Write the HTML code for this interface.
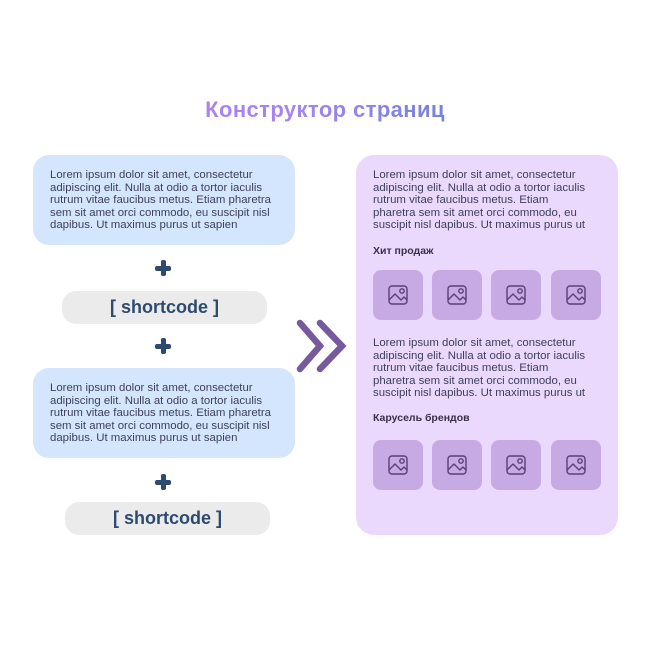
<!DOCTYPE html>
<html><head><meta charset="utf-8"><style>
body{margin:0;width:650px;height:650px;background:#fff;position:relative;overflow:hidden;font-family:"Liberation Sans","DejaVu Sans",sans-serif}
.a{position:absolute}
.title{left:0;width:650px;top:97px;text-align:center;font-size:22px;letter-spacing:0.4px;font-weight:bold;background:linear-gradient(90deg,#c07af5 0%,#a584ee 45%,#5b84d2 80%,#4a7bc8 100%);-webkit-background-clip:text;background-clip:text;color:transparent}
.box{background:#d3e6fd;border-radius:16px;width:262px;height:90px;left:33px}
.t{font-size:11.4px;line-height:12.6px;color:#3e3e5a;white-space:nowrap}
.pill{background:#ebebeb;border-radius:14px;width:205px;height:33px;text-align:center;line-height:33px;font-size:18px;font-weight:bold;color:#2d4a6f}
.plus{width:16px;height:16px}
.plus:before,.plus:after{content:"";position:absolute;background:#2d4a6f;border-radius:2px}
.plus:before{left:0;top:6px;width:16px;height:4.5px}
.plus:after{left:6px;top:0;width:4.5px;height:16px}
.panel{left:356px;top:155px;width:262px;height:380px;background:#ead9fd;border-radius:18px}
.tile{width:50px;height:50px;background:#c7a9e4;border-radius:8px}
.h{font-size:10.5px;font-weight:bold;color:#3a2f4a}
</style></head><body>
<div class="a title">Конструктор страниц</div>
<div class="a box" style="top:155px"></div>
<div class="a t" style="left:50px;top:169px">Lorem ipsum dolor sit amet, consectetur<br>adipiscing elit. Nulla at odio a tortor iaculis<br>rutrum vitae faucibus metus. Etiam pharetra<br>sem sit amet orci commodo, eu suscipit nisl<br>dapibus. Ut maximus purus ut sapien</div>
<div class="a plus" style="left:155px;top:260px"></div>
<div class="a pill" style="left:62px;top:291px">[ shortcode ]</div>
<div class="a plus" style="left:155px;top:338px"></div>
<div class="a box" style="top:368px"></div>
<div class="a t" style="left:50px;top:382px">Lorem ipsum dolor sit amet, consectetur<br>adipiscing elit. Nulla at odio a tortor iaculis<br>rutrum vitae faucibus metus. Etiam pharetra<br>sem sit amet orci commodo, eu suscipit nisl<br>dapibus. Ut maximus purus ut sapien</div>
<div class="a plus" style="left:155px;top:474px"></div>
<div class="a pill" style="left:65px;top:502px">[ shortcode ]</div>
<svg class="a" style="left:290px;top:315px" width="65" height="62"><g fill="none" stroke="#775a9c" stroke-width="6.5" stroke-linecap="round"><polyline points="10,8 30,31 10,54"/><polyline points="30,8 52,31 30,54"/></g></svg>
<div class="a panel"></div>
<div class="a t" style="left:373px;top:169px">Lorem ipsum dolor sit amet, consectetur<br>adipiscing elit. Nulla at odio a tortor iaculis<br>rutrum vitae faucibus metus. Etiam<br>pharetra sem sit amet orci commodo, eu<br>suscipit nisl dapibus. Ut maximus purus ut</div>
<div class="a h" style="left:373px;top:245px">Хит продаж</div>
<div class="a t" style="left:373px;top:337px">Lorem ipsum dolor sit amet, consectetur<br>adipiscing elit. Nulla at odio a tortor iaculis<br>rutrum vitae faucibus metus. Etiam<br>pharetra sem sit amet orci commodo, eu<br>suscipit nisl dapibus. Ut maximus purus ut</div>
<div class="a h" style="left:373px;top:412px">Карусель брендов</div>
<svg width="0" height="0" style="position:absolute"><defs><g id="ic" fill="none" stroke="#5a3f78" stroke-width="1.4" stroke-linejoin="round"><rect x="16" y="16" width="18" height="18" rx="3"/><path d="M16 30 L22 24 L28 30 L31 27 L34 30"/><circle cx="29" cy="21" r="2.2"/></g></defs></svg>
<div class="a tile" style="left:373px;top:270px"><svg width="50" height="50"><use href="#ic"/></svg></div>
<div class="a tile" style="left:432px;top:270px"><svg width="50" height="50"><use href="#ic"/></svg></div>
<div class="a tile" style="left:491px;top:270px"><svg width="50" height="50"><use href="#ic"/></svg></div>
<div class="a tile" style="left:551px;top:270px"><svg width="50" height="50"><use href="#ic"/></svg></div>
<div class="a tile" style="left:373px;top:440px"><svg width="50" height="50"><use href="#ic"/></svg></div>
<div class="a tile" style="left:432px;top:440px"><svg width="50" height="50"><use href="#ic"/></svg></div>
<div class="a tile" style="left:491px;top:440px"><svg width="50" height="50"><use href="#ic"/></svg></div>
<div class="a tile" style="left:551px;top:440px"><svg width="50" height="50"><use href="#ic"/></svg></div>
</body></html>
